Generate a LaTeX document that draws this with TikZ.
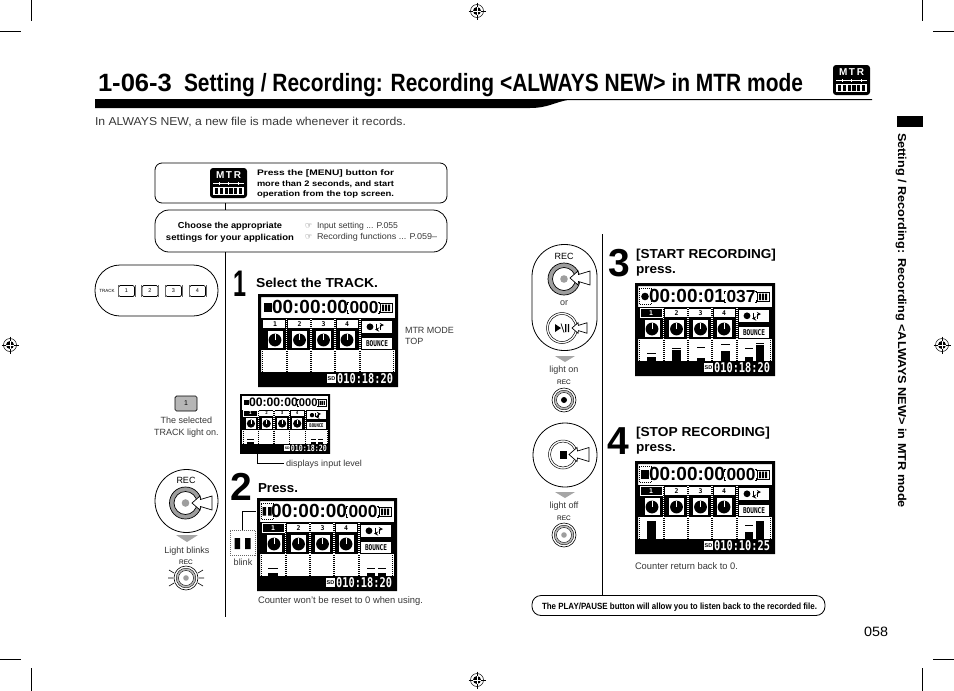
\documentclass[tikz,border=0pt]{standalone}
\usepackage{fontspec}
\setmainfont{Liberation Sans}
\newfontfamily\dejavu{DejaVu Sans}
\newfontfamily\monob{DejaVu Sans Mono}
\usetikzlibrary{calc}
\definecolor{capt}{gray}{0.22}
\definecolor{btn}{gray}{0.62}
\newcommand\fs[1]{\fontsize{#1}{#1}\selectfont}
\newcommand\fitw[2]{\resizebox{#1pt}{\height}{#2}}
\tikzset{
  txt/.style={inner sep=0pt,outer sep=0pt,anchor=base west,font=\fs{9.5},text=capt},
  ctrtxt/.style={inner sep=0pt,outer sep=0pt,anchor=base,font=\fs{9},text=capt},
  head/.style={inner sep=0pt,outer sep=0pt,anchor=base west,font=\fs{13}\bfseries,text=black},
  bignum/.style={inner sep=0pt,outer sep=0pt,anchor=base west,font=\fs{39}\bfseries,text=black},
  boxshape/.style={draw=black,line width=0.8pt,fill=white,inner sep=0pt,outer sep=0pt},
  conn/.style={draw=black,line width=0.9pt},
  thinconn/.style={draw=black,line width=0.6pt},
  lcdtxt/.style={inner sep=0pt,outer sep=0pt,transform shape},
  recl/.style={inner sep=0pt,outer sep=0pt,font=\fs{8},text=black},
  hint/.style={fill=gray!70,draw=none},
  cropmark/.style={draw=black,line width=0.8pt},
}
% level bar: x1,x2,top,peak
\newcommand\lvl[4]{\fill[black] (#1,#3) rectangle (#2,78);\fill[black] (#1,#4) rectangle (#2,#4+1.2);}
% selected track
\newcommand\seltrack[1]{\draw[white,line width=0.4pt,fill=black] (5,25.6) rectangle (27,33.8);
  \node[lcdtxt,font=\monob\bfseries\fs{6.5},text=white] (#1-sel) at (16,29.7) {1};}
% LCD: name,x,y,scale,hms,ms,bottom,extra
\newcommand\lcd[8]{%
\begin{scope}[shift={(#2,#3)},scale=#4]
 \fill[white] (0,0) rectangle (140,93);
 \fill[black,even odd rule] (0,0) rectangle (140,93) (3,3) rectangle (137,90);
 \node[lcdtxt,anchor=base west,font=\fs{19}\bfseries] (#1-time) at (14,19) {#5};
 \node[lcdtxt,anchor=base west,font=\fs{17.4}\bfseries] (#1-ms) at (91.5,19) {#6};
 \draw[black,line width=0.5pt] (91,8)--(89.5,8)--(89.5,11) (89.5,16)--(89.5,19)--(91,19)
   (120,8)--(121,8)--(121,10) (121,17)--(121,19)--(120,19);
 % battery
 \draw[black,line width=0.7pt] (122.5,9) rectangle (134,18.5);
 \fill[black] (124,10.5) rectangle (126,17) (127,10.5) rectangle (129,17) (130,10.5) rectangle (132,17);
 \fill[black] (3,24.3) rectangle (137,56);
 \foreach \xa/\xb/\xc/\n in {5/27/17/1,30/52/41.5/2,54/76/65.5/3,79/100/89/4}{
   \fill[white] (\xa,26) rectangle (\xb,33.7);
   \node[lcdtxt,font=\monob\bfseries\fs{6.5},text=black] at (\xc,29.8) {\n};
   \fill[white] (\xc-7.5,36.7) rectangle (\xc+7.5,54.3);
   \fill[black] (\xc,46) circle [radius=6.4];
   \draw[white,line width=0.7pt] (\xc,46)--(\xc,39.8);
 }
 \foreach \x in {28.7,53,77,102}{\draw[white,line width=1.4pt,dash pattern=on 1pt off 1pt] (\x,25)--(\x,56);}
 \foreach \x in {28.7,53,77,102}{\draw[black,line width=1.7pt,dash pattern=on 1pt off 1pt] (\x,57)--(\x,78);}
 \draw[black,line width=0.6pt,dash pattern=on 1pt off 1pt] (4.5,57)--(4.5,78) (135.5,57)--(135.5,78);
 \fill[white] (104,27) rectangle (134,38.5);
 \fill[black] (112,32.8) circle [radius=3.4];
 \draw[black,line width=0.9pt,-stealth] (118,29.5)--(118,35.5)--(117,35.5);
 \draw[black,line width=0.9pt,-stealth] (122.5,36)--(122.5,31)--(126,31);
 \fill[white] (104,44) rectangle (134,55);
 \node[lcdtxt,font=\monob\bfseries\fs{6.4},text=black] (#1-bounce) at (119,49.6) {\scalebox{0.95}[1.25]{BOUNCE}};
 \fill[black] (3,78) rectangle (137,90);
 \fill[white] (69,80) rectangle (78,88.5);
 \node[lcdtxt,font=\bfseries\fs{5.5},text=black] (#1-sd) at (73.5,84.2) {SD};
 \node[lcdtxt,anchor=east,font=\monob\bfseries\fs{10.3},text=white] (#1-bottom) at (135,84.2) {\scalebox{1}[1.3]{#7}};
 #8
\end{scope}}
\newcommand\symstop{\fill[black] (6,9) rectangle (14,17.5);}
\newcommand\symdash{\draw[black,line width=0.4pt,dash pattern=on 1pt off 1pt] (4,5.5) rectangle (16,21);}
% MTR icon
\newcommand\mtricon[3]{%
\begin{scope}[shift={(#2,#3)}]
 \fill[black,rounded corners=3pt] (0,0) rectangle (37,30);
 \node[inner sep=0pt,font=\fs{10}\bfseries,text=white] (#1-label) at (18.5,7.5) {M\,T\,R};
 \draw[white,line width=0.5pt] (3,15.5)--(34,15.5);
 \foreach \x in {9,18.5,28}{\draw[white,line width=0.5pt] (\x,14)--(\x,17);}
 \fill[white] (3,18.5) rectangle (34,27);
 \foreach \x in {5,14.5,24}{\fill[black] (\x,20) rectangle (\x+8,25.5);\fill[white] (\x+3.4,19.5) rectangle (\x+4.6,26);}
\end{scope}}
% registration mark
\newcommand\regmark[3]{%
 \coordinate (#1) at (#2,#3);
 \draw[black,line width=0.5pt] (#1) circle [radius=6.5];
 \draw[black,line width=0.5pt] ($(#1)+(-8.5,0)$)--($(#1)+(8.5,0)$) ($(#1)+(0,-8.5)$)--($(#1)+(0,8.5)$);
 \fill[black] (#1) circle [radius=4];
 \draw[white,line width=0.6pt] ($(#1)+(-4,0)$)--($(#1)+(4,0)$) ($(#1)+(0,-4)$)--($(#1)+(0,4)$);}
% press arrow: name,x,y,scale
\newcommand\pressarrow[4]{\draw[black,line width=0.7pt,fill=white,line join=miter,shift={(#2,#3)},scale=#4]
 (0,0)--(8,-7)--(8.5,-3.5)--(20,-7)--(20,7)--(8.5,3.5)--(8,7)--cycle;
 \coordinate (#1) at (#2,#3);}
% ring button: name,x,y,router,rinner,dotr
\newcommand\ringbtn[6]{\coordinate (#1) at (#2,#3);
 \draw[black,line width=0.7pt,fill=btn] (#1) circle [radius=#4];
 \draw[black,line width=0.7pt,fill=white] (#1) circle [radius=#5];
 \fill[btn] (#1) circle [radius=#6];}
\newcommand\smallbtn[3]{\coordinate (#1) at (#2,#3);
 \draw[black,line width=0.6pt,fill=white] (#1) circle [radius=12];
 \draw[black,line width=0.4pt,fill=btn!70!white] (#1) circle [radius=9.8];
 \draw[black,line width=0.4pt,fill=white] (#1) circle [radius=7.5];}
\begin{document}
\begin{tikzpicture}[x=1pt,y=-1pt]
\useasboundingbox (0,0) rectangle (954,691);
\fill[white] (0,0) rectangle (954,691);
% crop marks
\coordinate (ctl) at (31.5,21);\coordinate (ctr) at (922,21);\coordinate (cbl) at (31.5,668);\coordinate (cbr) at (922,668);
\draw[cropmark] (31.5,0)--(ctl) (0,31)--(21,31) (922,0)--(ctr) (933,31)--(954,31)
  (31.5,691)--(cbl) (0,659)--(21,659) (922,691)--(cbr) (933,659)--(954,659);
\regmark{regt}{477}{11}\regmark{regl}{10}{345}\regmark{regr}{942}{345}\regmark{regb}{477}{680}
% title
\node[inner sep=0pt,outer sep=0pt,anchor=base west,font=\fs{25}\bfseries] (num) at (98,91) {\fitw{74}{1-06-3}};
\node[inner sep=0pt,outer sep=0pt,anchor=base west,font=\fs{25}\bfseries] (title) at (184,91) {\fitw{619}{Setting / Recording: Recording <ALWAYS NEW> in MTR mode}};
\fill[black] (95,99)--(872,99)--(872,100)--(568,100) .. controls (555,102) and (548,108) .. (530,108)--(95,108)--cycle;
\mtricon{mtrt}{833}{65}
\node[txt,font=\fs{11.5}] (intro) at (95,125) {\fitw{311}{In ALWAYS NEW, a new file is made whenever it records.}};
% side
\fill[black] (897,116) rectangle (923,127);
\node[inner sep=0pt,outer sep=0pt,anchor=base west,rotate=-90,font=\fs{11.5}\bfseries] (side) at (898,133) {\fitw{375}{Setting / Recording: Recording <ALWAYS NEW> in MTR mode}};
\node[inner sep=0pt,outer sep=0pt,anchor=base west,font=\fs{13.5}] (page) at (864,636) {\fitw{24}{058}};
% boxes
\node[boxshape,rounded corners=7pt,minimum width=292pt,minimum height=40pt] (topbox) at (301,183) {};
\node[boxshape,rounded corners=14pt,minimum width=292pt,minimum height=42pt] (midbox) at (301,231) {};
\node[boxshape,rounded corners=9pt,minimum width=293pt,minimum height=20pt] (notebox) at (678.5,605.5) {};
\coordinate (stemL) at (225,617);
\coordinate (stemRtop) at (602,234);
\draw[conn] (topbox.south -| stemL)--(midbox.north -| stemL);
\draw[conn] (midbox.south -| stemL)--(stemL);
\draw[conn] (stemRtop)--(notebox.north -| stemRtop);
\mtricon{mtrb}{210}{168}
\node[head,font=\fs{8}\bfseries] (t1) at (257,175) {\fitw{137}{Press the [MENU] button for}};
\node[head,font=\fs{8}\bfseries] (t2) at (257,186) {\fitw{137}{more than 2 seconds, and start}};
\node[head,font=\fs{8}\bfseries] (t3) at (257,196.5) {\fitw{137}{operation from the top screen.}};
\node[ctrtxt,font=\fs{8.7}\bfseries,text=black] (c1) at (230,228) {\fitw{104}{Choose the appropriate}};
\node[ctrtxt,font=\fs{8.7}\bfseries,text=black] (c2) at (230,240) {\fitw{128}{settings for your application}};
\node[txt,font=\dejavu\fs{8}] (h1) at (305,228) {☞};
\node[txt,font=\dejavu\fs{8}] (h2) at (305,239.5) {☞};
\node[txt,font=\fs{8.5}] (r1) at (317,228) {\fitw{81}{Input setting ... P.055}};
\node[txt,font=\fs{8.5}] (r2) at (317,239.5) {\fitw{120}{Recording functions ... P.059–}};
% track pill
\node[boxshape,rounded corners=25pt,minimum width=123pt,minimum height=51pt] (trackpill) at (156.5,290.5) {};
\node[inner sep=0pt,font=\fs{4.5},text=black] (tracklabel) at (107,291) {TRACK};
\foreach \n/\x in {1/126.5,2/150,3/173.5,4/197.5}{
  \node[draw=black,line width=0.7pt,fill=white,rounded corners=1.5pt,minimum width=16pt,minimum height=11pt,inner sep=0pt,font=\fs{5.5},text=black] (trk\n) at (\x,291) {\n};
  \draw[black!60,line width=0.5pt] (trk\n.north west)--(trk\n.south west) (trk\n.north east)--(trk\n.south east);
}
% steps
\node[bignum,font=\fs{37}\bfseries] (n1) at (233.5,296) {\fitw{13}{1}};
\node[head] (s1) at (256,287) {\fitw{122}{Select the TRACK.}};
\lcd{lcda}{258}{294}{1}{00:00:00}{000}{010:18:20}{\symstop}
\node[txt,font=\fs{9}] (mm1) at (405,333) {MTR MODE};
\node[txt,font=\fs{9}] (mm2) at (405,344.5) {TOP};
% selected light
\node[draw=black,line width=0.7pt,fill=btn!75!white,rounded corners=1.5pt,minimum width=22pt,minimum height=15pt,inner sep=0pt,font=\fs{7},text=black] (sellight) at (186,403.5) {1};
\node[ctrtxt] (sl1) at (186.5,423) {The selected};
\node[ctrtxt] (sl2) at (186.5,435) {TRACK light on.};
% small lcd
\lcd{lcds}{240}{394}{0.643}{00:00:00}{000}{010:18:20}{\symstop\seltrack{lcds}\lvl{11}{21}{75}{70}\lvl{110}{118}{75}{70}\lvl{121}{129}{75}{70}}
\coordinate (levelbar) at (257,449);
\node[txt,font=\fs{8.7}] (disp) at (286,466) {\fitw{76}{displays input level}};
\coordinate (dispend) at ($(disp.west)+(-2,0)$);
\draw[thinconn] (levelbar)--(levelbar |- dispend)--(dispend);
% step 2
\node[bignum] (n2) at (230,500) {2};
\node[head] (s2) at (258,492) {\fitw{40}{Press.}};
\lcd{lcdb}{257}{498}{1}{00:00:00}{000}{010:18:20}{\fill[black] (5.5,9) rectangle (9,17.5) (11,9) rectangle (14.5,17.5);\symdash\seltrack{lcdb}\lvl{11}{21}{75}{70}\lvl{110}{118}{75}{70}\lvl{121}{129}{75}{70}}
\node[draw=black!60,line width=0.5pt,dash pattern=on 1pt off 1pt,minimum width=25pt,minimum height=25pt,inner sep=0pt,fill=white] (blinkbox) at (242.5,542.5) {};
\fill[black] (234.5,538) rectangle (240,549) (245,538) rectangle (250.5,549);
\coordinate (blinkend) at (256,511);
\draw[thinconn] (blinkbox.north)--(blinkbox.north |- blinkend)--(blinkend);
\node[ctrtxt] (blinklabel) at (243,565) {blink};
\node[txt,font=\fs{9.5}] (cnt) at (258,603) {\fitw{165}{Counter won't be reset to 0 when using.}};
% REC 1
\node[draw=black,line width=0.8pt,circle,minimum size=63pt,inner sep=0pt,outer sep=0pt] (reca) at (186.5,501) {};
\node[recl,font=\fs{9}] (reca-l) at (186,480) {REC};
\ringbtn{reca-r}{185.5}{503}{16}{11.5}{3.8}
\pressarrow{reca-a}{192}{503}{1}
\fill[hint] (176,535)--(198,535)--(187,542)--cycle;
\node[ctrtxt] (lb) at (187,553) {Light blinks};
\node[recl,font=\fs{6.5}] (reca-s) at (186,562.5) {REC};
\smallbtn{reca-b}{186}{578}
\fill[btn] (reca-b) circle [radius=2.8];
\draw[black,line width=0.6pt] (168,578)--(173,578) (199,578)--(204,578) (169,570)--(174,573) (198,573)--(203,570) (169,586)--(174,583) (198,583)--(203,586);
% step 3
\node[bignum] (n3) at (608,276.5) {3};
\node[head] (s3a) at (636,258) {\fitw{140}{[START RECORDING]}};
\node[head] (s3b) at (636,273) {\fitw{40}{press.}};
\lcd{lcdc}{635}{283}{1}{00:00:01}{037}{010:18:20}{\fill[black] (10,13.5) circle [radius=3.8];\symdash\seltrack{lcdc}\lvl{12}{21}{74}{70}\lvl{37}{46}{67}{65}\lvl{62}{70}{75}{64}\lvl{86}{95}{68}{61}\lvl{110}{118}{74}{65}\lvl{121}{129}{62}{60}}
% REC pill
\node[boxshape,rounded corners=32pt,minimum width=65pt,minimum height=106pt] (recpill) at (564.5,297.5) {};
\node[recl,font=\fs{9}] (recb-l) at (564,256) {REC};
\ringbtn{recb-r}{564}{279}{16}{11.5}{3.8}
\pressarrow{recb-a}{570}{278}{1}
\node[ctrtxt] (or) at (564,305) {or};
\draw[black,line width=0.5pt] (562,328) circle [radius=15.5] (562,328) circle [radius=13.5];
\coordinate (playc) at (562,328);
\fill[black] (555,324)--(561,328)--(555,332)--cycle;
\draw[black,line width=0.7pt] (561,323.5)--(564,332.5);
\fill[black] (565,324) rectangle (566.4,332) (567.8,324) rectangle (569.2,332);
\pressarrow{recb-p}{572}{328}{0.75}
\fill[hint] (555,356)--(575,356)--(565,362)--cycle;
\node[ctrtxt] (lon) at (564,372) {light on};
\node[recl,font=\fs{6.5}] (recb-s) at (564,382) {REC};
\smallbtn{recb-b}{564}{400}
\fill[black] (recb-b) circle [radius=3];
% step 4
\node[bignum] (n4) at (607.5,454.5) {4};
\node[head] (s4a) at (636,436) {\fitw{134}{[STOP RECORDING]}};
\node[head] (s4b) at (636,451) {\fitw{40}{press.}};
\lcd{lcdd}{635}{461}{1}{00:00:00}{000}{010:10:25}{\symstop\symdash\seltrack{lcdd}\lvl{12}{21}{60}{60}\lvl{110}{118}{71}{64}\lvl{121}{129}{60}{60}}
\node[draw=black,line width=0.8pt,circle,minimum size=64pt,inner sep=0pt,outer sep=0pt] (stopb) at (565,455) {};
\draw[black,line width=0.5pt] (563,454.5) circle [radius=14.5] (563,454.5) circle [radius=12.5];
\coordinate (stopc) at (563,454.5);
\fill[black] (559.5,450.5) rectangle (567,458.5);
\pressarrow{stop-a}{569}{454.5}{1}
\fill[hint] (555,492)--(575,492)--(565,498)--cycle;
\node[ctrtxt] (loff) at (564,508) {light off};
\node[recl,font=\fs{6.5}] (recc-s) at (564,518) {REC};
\smallbtn{recc-b}{564}{535}
\fill[btn] (recc-b) circle [radius=2.8];
\node[txt,font=\fs{9.5}] (ret) at (635,569) {\fitw{103}{Counter return back to 0.}};
\node[inner sep=0pt,outer sep=0pt,anchor=base,font=\fs{9}\bfseries] (notetext) at (679.5,609) {\fitw{275}{The PLAY/PAUSE button will allow you to listen back to the recorded file.}};
\end{tikzpicture}
\end{document}
